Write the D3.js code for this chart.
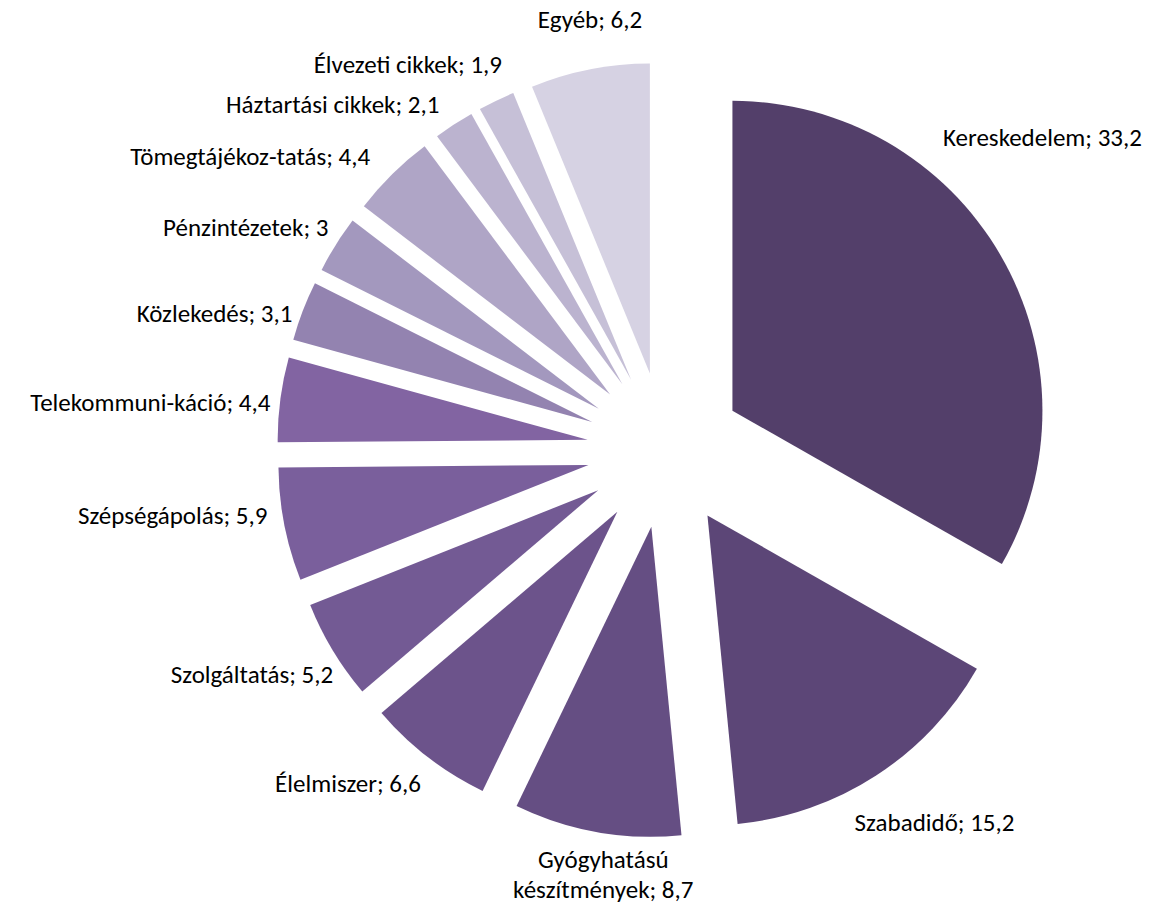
<!DOCTYPE html>
<html>
<head>
<meta charset="utf-8">
<script src="https://cdn.jsdelivr.net/npm/d3@7"></script>
<style>
  body { margin: 0; background: #fff; }
  svg text { font-family: Calibri, Carlito, Lato, sans-serif; fill: #000; }
</style>
</head>
<body>
<svg id="chart" width="1165" height="906"></svg>
<script>
// Advertising spend by sector (%)
const categories = [
  "Kereskedelem", "Szabadidő", "Gyógyhatású készítmények", "Élelmiszer",
  "Szolgáltatás", "Szépségápolás", "Telekommuni-káció", "Közlekedés",
  "Pénzintézetek", "Tömegtájékoz-tatás", "Háztartási cikkek",
  "Élvezeti cikkek", "Egyéb"
];
const values = [33.2, 15.2, 8.7, 6.6, 5.2, 5.9, 4.4, 3.1, 3, 4.4, 2.1, 1.9, 6.2];
const colors = [
  "#533f6a", "#5c4677", "#654e83", "#6c538b", "#735a94", "#7a5f9c",
  "#8264a2", "#9383b0", "#a398be", "#afa5c6", "#bbb3cf", "#c6c0d7", "#d6d2e3"
];
// label offsets from the default outside-end position, in px
const labelNudge = [
  [-66, -105], [-27, 26], [8, 3], [-1, 6], [9, 11], [-7, -14], [0, 6],
  [-1, 11], [1, -4], [-15, 0], [-9, 1], [10, -14], [2, -26]
];

const width = 1165, height = 906;
const cx = 665, cy = 450, radius = 310, explode = 78, labelGap = 10;
const fontSize = 25, lineHeight = 30;

const fmt = v => String(v).replace(".", ",");

const svg = d3.select("#chart");
const g = svg.append("g").attr("transform", `translate(${cx},${cy})`);

const pie = d3.pie().sort(null).value(d => d.value);
const arc = d3.arc().innerRadius(0).outerRadius(radius);

const data = categories.map((c, i) => ({ name: c, value: values[i], color: colors[i], nudge: labelNudge[i] }));
const arcs = pie(data);

arcs.forEach(a => {
  const mid = (a.startAngle + a.endAngle) / 2;
  a.dx = Math.sin(mid);
  a.dy = -Math.cos(mid);
});

// exploded slices
g.selectAll("path.slice")
  .data(arcs)
  .join("path")
  .attr("class", "slice")
  .attr("transform", d => `translate(${d.dx * explode},${d.dy * explode})`)
  .attr("d", arc)
  .attr("fill", d => d.data.color);

// labels placed beyond the outer edge of each slice
const labels = g.selectAll("text.lbl")
  .data(arcs)
  .join("text")
  .attr("class", "lbl")
  .style("font-size", fontSize + "px");

labels.each(function (d) {
  const t = d3.select(this);
  const text = `${d.data.name}; ${fmt(d.data.value)}`;
  const centred = Math.abs(d.dx) < 0.35;
  const anchor = centred ? "middle" : (d.dx > 0 ? "start" : "end");
  let lines = [text];
  if (centred && d.data.name.includes(" ")) {
    const sp = d.data.name.indexOf(" ");
    lines = [d.data.name.slice(0, sp), `${d.data.name.slice(sp + 1)}; ${fmt(d.data.value)}`];
  }
  const dist = explode + radius + labelGap;
  const px = d.dx * dist + d.data.nudge[0];
  const blockH = lines.length * lineHeight;
  const yc = d.dy * dist + d.dy * blockH / 2 + d.data.nudge[1];
  const y0 = yc - blockH / 2 + lineHeight / 2;
  t.attr("text-anchor", anchor);
  lines.forEach((ln, k) => {
    t.append("tspan")
      .attr("x", px)
      .attr("y", y0 + k * lineHeight)
      .attr("dy", "0.35em")
      .text(ln);
  });
});
</script>
</body>
</html>
